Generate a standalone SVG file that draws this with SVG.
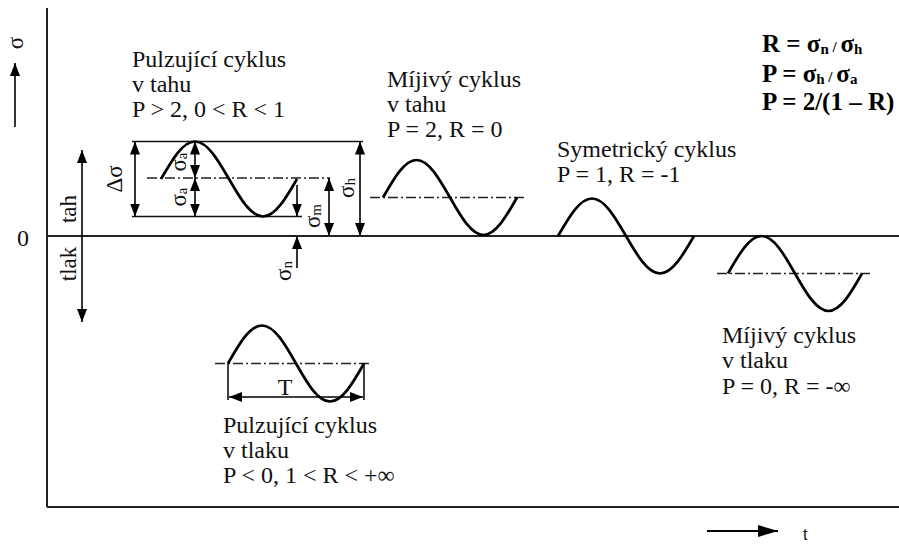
<svg xmlns="http://www.w3.org/2000/svg" width="899" height="545" viewBox="0 0 899 545">
<style>
.ln{stroke:#111;stroke-width:1.6;fill:none}
.ax{stroke:#222;stroke-width:2;fill:none}
.dd{stroke:#222;stroke-width:1.4;fill:none;stroke-dasharray:10 3 2 3}
.wv{stroke:#000;stroke-width:2.7;fill:none}
.ar{stroke:#000;stroke-width:1.6;fill:none;marker-end:url(#ah)}
.ar2{stroke:#000;stroke-width:1.6;fill:none;marker-end:url(#ah);marker-start:url(#ah)}
text{font-family:"Liberation Serif","Times New Roman",serif;fill:#111}
.t{font-size:24px}
.s{font-size:23px}
.f{font-size:25px;font-weight:bold;fill:#000}
</style>
<defs>
<marker id="ah" viewBox="0 0 13 10" refX="13" refY="5" markerWidth="13" markerHeight="10" markerUnits="userSpaceOnUse" orient="auto-start-reverse">
<path d="M0,0 L13,5 L0,10 z" fill="#000"/>
</marker>
<marker id="ahl" viewBox="0 0 20 12" refX="20" refY="6" markerWidth="20" markerHeight="12" markerUnits="userSpaceOnUse" orient="auto">
<path d="M0,0 L20,6 L0,12 z" fill="#000"/>
</marker>
</defs>
<g id="axes">
<line class="ax" x1="47" y1="8" x2="47" y2="507"/>
<line class="ax" x1="47" y1="236" x2="899" y2="236"/>
<line class="ax" x1="47" y1="507" x2="899" y2="507"/>
<line class="ar" x1="15" y1="127" x2="15" y2="63"/>
<text class="s" transform="rotate(-90 15 43)" x="15" y="43" text-anchor="middle" dominant-baseline="central">σ</text>
<text class="t" x="23" y="246" text-anchor="middle">0</text>
<line class="ar2" x1="82" y1="150" x2="82" y2="322"/>
<text class="s" transform="rotate(-90 68 209)" x="68" y="209" text-anchor="middle" dominant-baseline="central">tah</text>
<text class="s" transform="rotate(-90 68 264)" x="68" y="264" text-anchor="middle" dominant-baseline="central">tlak</text>
<line x1="707" y1="531" x2="778" y2="531" style="stroke:#000;stroke-width:2;marker-end:url(#ahl)"/>
<text x="803" y="540" style="font-family:'Liberation Sans',Arial,sans-serif;font-size:16px">t</text>
</g>
<g id="formulas">
<text class="f" x="762" y="52">R = σ<tspan font-size="15" dy="2">n</tspan><tspan font-size="15" dy="-2"> / </tspan>σ<tspan font-size="15" dy="2">h</tspan></text>
<text class="f" x="762" y="82">P = σ<tspan font-size="15" dy="2">h</tspan><tspan font-size="15" dy="-2"> / </tspan>σ<tspan font-size="15" dy="2">a</tspan></text>
<text class="f" x="762" y="110">P = 2/(1 – R)</text>
</g>
<g id="cycle-pulz-tah">
<text class="t" x="132" y="67">Pulzující cyklus</text>
<text class="t" x="132" y="92">v tahu</text>
<text class="t" x="132" y="117">P &gt; 2, 0 &lt; R &lt; 1</text>
<line class="ln" x1="132" y1="141.5" x2="363" y2="141.5"/>
<line class="ln" x1="132" y1="216.5" x2="302" y2="216.5"/>
<line class="dd" x1="147" y1="178" x2="330" y2="178"/>
<path class="wv" d="M161,179 C172.1,159.8 182.7,141.5 195,141.5 C207.3,141.5 217.9,159.8 229,179 C240.1,198.2 250.7,216.5 263,216.5 C275.3,216.5 285.9,198.2 297,179"/>
<line class="ar2" x1="135" y1="141.5" x2="135" y2="216.5"/>
<text class="s" transform="rotate(-90 114 179)" x="114" y="179" text-anchor="middle" dominant-baseline="central">Δσ</text>
<line class="ar2" x1="195" y1="141.5" x2="195" y2="178"/>
<line class="ar2" x1="195" y1="178" x2="195" y2="216.5"/>
<text class="s" transform="rotate(-90 178 162)" x="178" y="162" text-anchor="middle" dominant-baseline="central">σ<tspan font-size="15" dy="4">a</tspan></text>
<text class="s" transform="rotate(-90 178 197)" x="178" y="197" text-anchor="middle" dominant-baseline="central">σ<tspan font-size="15" dy="4">a</tspan></text>
<line class="ar" x1="297" y1="185" x2="297" y2="216.5"/>
<line class="ar" x1="297" y1="268" x2="297" y2="236"/>
<text class="s" transform="rotate(-90 283 271)" x="283" y="271" text-anchor="middle" dominant-baseline="central">σ<tspan font-size="15" dy="4">n</tspan></text>
<line class="ar2" x1="329" y1="178" x2="329" y2="236"/>
<text class="s" transform="rotate(-90 312 216)" x="312" y="216" text-anchor="middle" dominant-baseline="central">σ<tspan font-size="15" dy="4">m</tspan></text>
<line class="ar2" x1="360" y1="141.5" x2="360" y2="236"/>
<text class="s" transform="rotate(-90 346 188)" x="346" y="188" text-anchor="middle" dominant-baseline="central">σ<tspan font-size="15" dy="4">h</tspan></text>
</g>
<g id="cycle-mijivy-tah">
<text class="t" x="387" y="87">Míjivý cyklus</text>
<text class="t" x="387" y="112">v tahu</text>
<text class="t" x="387" y="137">P = 2, R = 0</text>
<line class="dd" x1="370" y1="197.5" x2="525" y2="197.5"/>
<path class="wv" d="M383,197.5 C393.9,178.3 404.4,160 416.5,160 C428.6,160 439.1,178.3 450,197.5 C460.9,216.7 471.4,235 483.5,235 C495.6,235 506.1,216.7 517,197.5"/>
</g>
<g id="cycle-symetricky">
<text class="t" x="557" y="157">Symetrický cyklus</text>
<text class="t" x="557" y="182">P = 1, R = -1</text>
<path class="wv" d="M558,236 C569.1,216.8 579.7,198.5 592,198.5 C604.3,198.5 614.9,216.8 626,236 C637.1,255.2 647.7,273.5 660,273.5 C672.3,273.5 682.9,255.2 694,236"/>
</g>
<g id="cycle-mijivy-tlak">
<line class="dd" x1="717" y1="273.5" x2="870" y2="273.5"/>
<path class="wv" d="M728,273.5 C738.9,254.3 749.4,236 761.5,236 C773.6,236 784.1,254.3 795,273.5 C805.9,292.7 816.4,311 828.5,311 C840.6,311 851.1,292.7 862,273.5"/>
<text class="t" x="722" y="343">Míjivý cyklus</text>
<text class="t" x="722" y="368">v tlaku</text>
<text class="t" x="722" y="394">P = 0, R = -∞</text>
</g>
<g id="cycle-pulz-tlak">
<line class="dd" x1="215" y1="363.5" x2="372" y2="363.5"/>
<path class="wv" d="M228,363.5 C239.1,344 249.7,325.5 262,325.5 C274.3,325.5 284.9,344 296,363.5 C307.1,383 317.7,401.5 330,401.5 C342.3,401.5 352.9,383 364,363.5"/>
<line class="ln" x1="228" y1="363.5" x2="228" y2="400"/>
<line class="ln" x1="364" y1="363.5" x2="364" y2="400"/>
<line class="ar2" x1="229" y1="397" x2="363" y2="397"/>
<text class="t" x="285" y="395" text-anchor="middle">T</text>
<text class="t" x="223" y="433">Pulzující cyklus</text>
<text class="t" x="223" y="458">v tlaku</text>
<text class="t" x="223" y="483">P &lt; 0, 1 &lt; R &lt; +∞</text>
</g>
</svg>
